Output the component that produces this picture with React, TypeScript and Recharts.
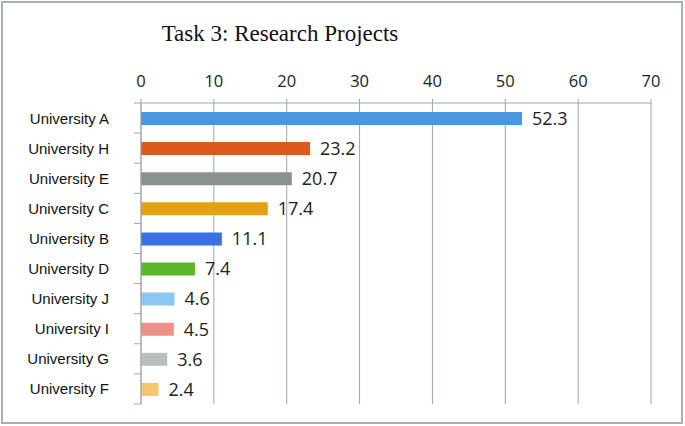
import React from 'react';
import { BarChart, Bar, XAxis, YAxis, CartesianGrid, Cell, LabelList } from 'recharts';

const universities = [
  'University A',
  'University H',
  'University E',
  'University C',
  'University B',
  'University D',
  'University J',
  'University I',
  'University G',
  'University F',
];
const projects = [52.3, 23.2, 20.7, 17.4, 11.1, 7.4, 4.6, 4.5, 3.6, 2.4];
const valueTicks = [0, 10, 20, 30, 40, 50, 60, 70];

const barColors = [
  '#4a96e0',
  '#dc5a1e',
  '#8a9290',
  '#e0a312',
  '#3a70e6',
  '#5ab82a',
  '#8cc6f2',
  '#ec9088',
  '#b8c0be',
  '#f8c470',
];

const W = 685;
const H = 426;
const TOP = 103;
const BOTTOM = 22;
const GRID = '#9ea8a6';
const rowH = (H - TOP - BOTTOM) / universities.length;

const data = universities.map((name, i) => ({ name, projects: projects[i] }));

// category label plus the little boundary ticks Excel draws between rows
function CategoryTick(props: any) {
  const { x, y, payload, index } = props;
  return (
    <g>
      <text
        x={x - 32}
        y={y}
        textAnchor="end"
        dominantBaseline="central"
        fontFamily="'Liberation Sans', Arial, sans-serif"
        fontSize={15}
        fill="#111"
      >
        {payload.value}
      </text>
      <line x1={x - 7} x2={x} y1={y - rowH / 2} y2={y - rowH / 2} stroke={GRID} />
      {index === universities.length - 1 && (
        <line x1={x - 7} x2={x} y1={y + rowH / 2} y2={y + rowH / 2} stroke={GRID} />
      )}
    </g>
  );
}

export default function App() {
  return (
    <div style={{ position: 'absolute', left: 0, top: 0, width: W, height: H, background: '#fff' }}>
      <div
        style={{
          position: 'absolute',
          left: 1,
          top: 1,
          width: 682,
          height: 423,
          border: '2px solid #aab2b0',
          boxSizing: 'border-box',
        }}
      />
      <div
        style={{
          position: 'absolute',
          left: 0,
          top: 21,
          width: 560,
          textAlign: 'center',
          fontFamily: "'Liberation Serif', 'Times New Roman', serif",
          fontSize: 23,
          lineHeight: 'normal',
          color: '#111',
        }}
      >
        Task 3: Research Projects
      </div>
      <BarChart
        width={W}
        height={H}
        data={data}
        layout="vertical"
        margin={{ top: TOP - 30, right: 34, bottom: BOTTOM, left: 0 }}
      >
        <CartesianGrid horizontal={false} stroke={GRID} />
        <XAxis
          type="number"
          orientation="top"
          domain={[0, 70]}
          ticks={valueTicks}
          height={30}
          axisLine={{ stroke: GRID }}
          tickLine={{ stroke: GRID }}
          tickSize={4}
          tickMargin={12}
          tick={{ fontSize: 16.5, fill: '#222', fontFamily: "'Open Sans', sans-serif" }}
        />
        <YAxis
          type="category"
          dataKey="name"
          width={141}
          tickLine={false}
          tickSize={0}
          tickMargin={0}
          axisLine={{ stroke: GRID }}
          tick={<CategoryTick />}
          interval={0}
        />
        <Bar dataKey="projects" barSize={13} isAnimationActive={false}>
          {data.map((d, i) => (
            <Cell key={d.name} fill={barColors[i]} />
          ))}
          <LabelList
            dataKey="projects"
            position="right"
            offset={10}
            fill="#222"
            fontSize={18}
            fontFamily="'Open Sans', sans-serif"
          />
        </Bar>
      </BarChart>
    </div>
  );
}
